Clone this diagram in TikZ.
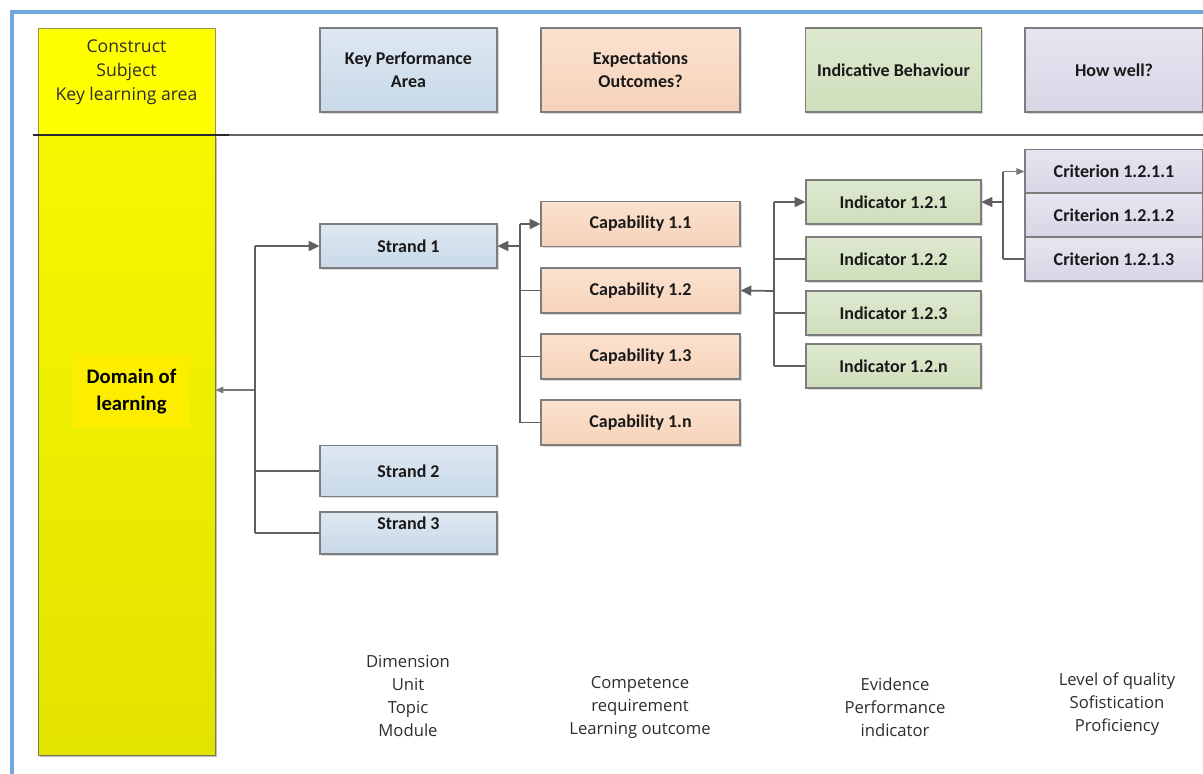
\documentclass[tikz,border=0pt]{standalone}
\usepackage{fontspec}
\setmainfont{Open Sans}
\newfontfamily\boxfont{Carlito}
\usetikzlibrary{arrows.meta,shadows}

\tikzset{every picture/.style={line width=0.75pt}}
\tikzset{
  box/.style={draw={rgb, 255:red, 125; green, 125; blue, 125}, line width=0.9pt, inner sep=0pt, align=center,
    font=\boxfont\fontsize{13.5}{17}\selectfont\bfseries, text={rgb, 255:red, 25; green, 25; blue, 25},
    drop shadow={shadow xshift=1.2pt, shadow yshift=-1.2pt, opacity=0.3}},
  kpabox/.style={box, top color={rgb, 255:red, 222; green, 232; blue, 242}, bottom color={rgb, 255:red, 200; green, 217; blue, 232}},
  capbox/.style={box, top color={rgb, 255:red, 251; green, 226; blue, 207}, bottom color={rgb, 255:red, 246; green, 211; blue, 186}},
  indbox/.style={box, top color={rgb, 255:red, 222; green, 233; blue, 208}, bottom color={rgb, 255:red, 207; green, 222; blue, 188}},
  critbox/.style={box, top color={rgb, 255:red, 232; green, 228; blue, 240}, bottom color={rgb, 255:red, 218; green, 213; blue, 230}},
  conn/.style={draw={rgb, 255:red, 95; green, 95; blue, 95}, line width=1.3pt},
  arr/.style={conn, -{Triangle[length=8pt,width=7.5pt]}},
  thinarr/.style={draw={rgb, 255:red, 120; green, 120; blue, 120}, line width=0.8pt, -{Triangle[length=6pt,width=5pt]}},
  plain/.style={align=center, font=\fontsize{12.5}{17.25}\selectfont, text={rgb, 255:red, 45; green, 45; blue, 45}}
}

\begin{document}
\begin{tikzpicture}[x=0.75pt,y=0.75pt,yscale=-1,xscale=1]
\useasboundingbox (0,0) rectangle (1203,774);

%Frame
\draw [color={rgb, 255:red, 111; green, 168; blue, 220 }, line width=3pt] (12,774) -- (12,12) -- (1203,12) ;

%Yellow column
\node [draw={rgb, 255:red, 120; green, 120; blue, 80 }, line width=0.6pt, top color={rgb, 255:red, 247; green, 247; blue, 0 }, bottom color={rgb, 255:red, 227; green, 227; blue, 0 }, minimum width=132.75pt, minimum height=465pt, inner sep=0pt, drop shadow={shadow xshift=1.2pt, shadow yshift=-1.5pt, opacity=0.5}] (ybody) at (126.5,445) {};
\node [draw={rgb, 255:red, 150; green, 150; blue, 90 }, line width=0.6pt, fill={rgb, 255:red, 255; green, 255; blue, 0 }, minimum width=132.75pt, minimum height=80.25pt, inner sep=0pt] (ytop) at (126.5,81.5) {};
\node [plain, font=\fontsize{13.2}{18}\selectfont] (construct) at (126.5,72.5) {Construct\\Subject\\Key learning area};
\node [fill={rgb, 255:red, 253; green, 238; blue, 0 }, minimum width=87.75pt, minimum height=54.75pt, inner sep=0pt, align=center, font=\boxfont\fontsize{15.5}{20}\selectfont\bfseries] (domain) at (131.5,391.5) {Domain of\\learning};

%Separator
\draw [color={rgb, 255:red, 40; green, 40; blue, 40 }, line width=1.1pt] (33,135) -- (229,135) ;
\draw [color={rgb, 255:red, 100; green, 100; blue, 100 }, line width=0.9pt] (229,135) -- (1203,135) ;

%Headers
\node [kpabox, minimum width=132.75pt, minimum height=63pt] (kpa) at (408.5,70) {Key Performance\\Area};
\node [capbox, minimum width=149.25pt, minimum height=63pt] (expect) at (640.5,70) {Expectations\\Outcomes?};
\node [indbox, minimum width=132pt, minimum height=63pt] (behav) at (893.5,70) {Indicative Behaviour};
\node [critbox, minimum width=133.5pt, minimum height=63pt] (howwell) at (1114,70) {How well?};

%Strands
\node [kpabox, minimum width=132.75pt, minimum height=33pt] (s1) at (408.5,246) {Strand 1};
\node [kpabox, minimum width=132.75pt, minimum height=38.25pt] (s2) at (408.5,471) {Strand 2};
\node [kpabox, minimum width=132.75pt, minimum height=31.5pt] (s3) at (408.5,533) {};
\node [font=\boxfont\fontsize{13.5}{17}\selectfont\bfseries, text={rgb, 255:red, 25; green, 25; blue, 25}] (s3label) at (408.5,523) {Strand 3};

%Capabilities
\node [capbox, minimum width=149.25pt, minimum height=33.75pt] (c11) at (640.5,224) {Capability 1.1};
\node [capbox, minimum width=149.25pt, minimum height=33.75pt] (c12) at (640.5,290.5) {Capability 1.2};
\node [capbox, minimum width=149.25pt, minimum height=33.75pt] (c13) at (640.5,356.5) {Capability 1.3};
\node [capbox, minimum width=149.25pt, minimum height=33.75pt] (c1n) at (640.5,422.5) {Capability 1.n};

%Indicators
\node [indbox, minimum width=131.25pt, minimum height=33pt] (i121) at (893.5,202) {Indicator 1.2.1};
\node [indbox, minimum width=131.25pt, minimum height=33pt] (i122) at (893.5,259) {Indicator 1.2.2};
\node [indbox, minimum width=131.25pt, minimum height=33pt] (i123) at (893.5,313) {Indicator 1.2.3};
\node [indbox, minimum width=131.25pt, minimum height=33pt] (i12n) at (893.5,366) {Indicator 1.2.n};

%Criteria
\node [critbox, minimum width=133.5pt, minimum height=33pt] (k1) at (1114,171.5) {Criterion 1.2.1.1};
\node [critbox, minimum width=133.5pt, minimum height=33pt] (k2) at (1114,215) {Criterion 1.2.1.2};
\node [critbox, minimum width=133.5pt, minimum height=33pt] (k3) at (1114,259) {Criterion 1.2.1.3};

%Junctions
\coordinate (sj) at (255,390);
\coordinate (cj) at (520,246);
\coordinate (ij) at (774,291);
\coordinate (kj) at (1003,202);

\draw [thinarr] (sj) -- (ybody.east |- sj) ;
\draw [conn] (s1.west -| sj) -- (s3.west -| sj) ;
\draw [arr] (s1.west -| sj) -- (s1.west) ;
\draw [conn] (s2.west -| sj) -- (s2.west) ;
\draw [conn] (s3.west -| sj) -- (s3.west) ;

\draw [arr] (cj) -- (s1.east) ;
\draw [conn] (c11.west -| cj) -- (c1n.west -| cj) ;
\draw [arr] (c11.west -| cj) -- (c11.west) ;
\draw [conn] (c12.west -| cj) -- (c12.west) ;
\draw [conn] (c13.west -| cj) -- (c13.west) ;
\draw [conn] (c1n.west -| cj) -- (c1n.west) ;

\draw [arr] (ij) -- (c12.east) ;
\draw [conn] (i121.west -| ij) -- (i12n.west -| ij) ;
\draw [arr] (i121.west -| ij) -- (i121.west) ;
\draw [conn] (i122.west -| ij) -- (i122.west) ;
\draw [conn] (i123.west -| ij) -- (i123.west) ;
\draw [conn] (i12n.west -| ij) -- (i12n.west) ;

\draw [arr] (kj) -- (i121.east) ;
\draw [conn] (k1.west -| kj) -- (k3.west -| kj) ;
\draw [thinarr] (k1.west -| kj) -- (k1.west) ;
\draw [conn] (k3.west -| kj) -- (k3.west) ;

%Bottom notes
\node [plain] (dimension) at (408,695.5) {Dimension\\Unit\\Topic\\Module};
\node [plain] (competence) at (640,707) {Competence\\requirement\\Learning outcome};
\node [plain] (evidence) at (895,707) {Evidence\\Performance\\indicator};
\node [plain] (quality) at (1117,704) {Level of quality\\Sofistication\\Proficiency};

\end{tikzpicture}
\end{document}
